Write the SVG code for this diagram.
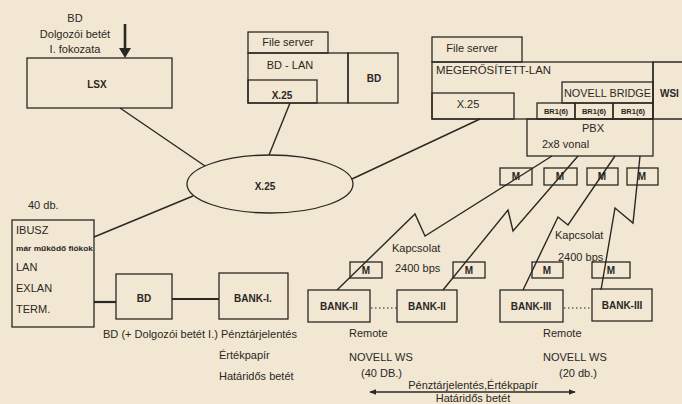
<svg xmlns="http://www.w3.org/2000/svg" width="682" height="404" viewBox="0 0 682 404">
<style>
text{font-family:"Liberation Sans",Arial,sans-serif;fill:#2b2824;font-size:11px}
.b{font-weight:bold;font-size:10px}
.s{font-weight:bold;font-size:7.5px}
.c{text-anchor:middle}
.bx{fill:none;stroke:#2b2824;stroke-width:1.3}
.ln{fill:none;stroke:#2b2824;stroke-width:1.4}
.th{fill:none;stroke:#2b2824;stroke-width:2.2}
.dot{fill:none;stroke:#2b2824;stroke-width:1.2;stroke-dasharray:1.5 2.5}
</style>
<defs>
<marker id="ah" viewBox="0 0 10 10" refX="9" refY="5" markerWidth="5" markerHeight="5" orient="auto-start-reverse">
<path d="M0,1 L10,5 L0,9 Z" fill="#2b2824"/>
</marker>
</defs>
<rect width="682" height="404" fill="#f1e7d2"/>

<g id="connectors">
<line class="ln" x1="120" y1="108" x2="205" y2="166"/>
<line class="ln" x1="290" y1="103" x2="269" y2="155"/>
<line class="ln" x1="352" y1="179" x2="480" y2="119"/>
<line class="ln" x1="94" y1="237" x2="193" y2="196"/>
<line class="th" x1="94" y1="302" x2="116" y2="302"/>
<line class="th" x1="172" y1="299" x2="219" y2="299"/>
<polyline class="ln" points="552,156 425,236 415,214 337,290"/>
<polyline class="ln" points="578,156 513,231 508,210 443,290"/>
<polyline class="ln" points="615,156 568,225 558,217 523,290"/>
<polyline class="ln" points="640,156 633,223 615,208 601,290"/>
<line class="dot" x1="371" y1="308" x2="397" y2="308"/>
<line class="dot" x1="564" y1="308" x2="592" y2="308"/>
<line x1="125" y1="24" x2="125" y2="52" stroke="#2b2824" stroke-width="2.6"/>
<path d="M119,48 L131,48 L125,58 Z" fill="#2b2824"/>
<line class="ln" x1="370" y1="392" x2="575" y2="392" marker-start="url(#ah)" marker-end="url(#ah)"/>
</g>

<g id="bd-label">
<text class="c" x="75" y="22">BD</text>
<text class="c" x="75" y="38">Dolgozói betét</text>
<text class="c" x="75" y="53">I. fokozata</text>
</g>

<g id="lsx">
<rect class="bx" x="27" y="58" width="145" height="50"/>
<text class="b c" x="97" y="88">LSX</text>
</g>

<g id="x25-cloud">
<ellipse class="bx" cx="270" cy="184" rx="83" ry="29" stroke-width="1.6"/>
<text class="b c" x="265" y="190">X.25</text>
</g>

<g id="bd-lan">
<rect class="bx" x="248" y="32" width="80" height="21"/>
<text class="c" x="288" y="46" font-size="10.5">File server</text>
<rect class="bx" x="248" y="53" width="100" height="50"/>
<rect class="bx" x="348" y="53" width="50" height="50"/>
<rect class="bx" x="248" y="80" width="69" height="23"/>
<text class="c" x="290" y="69" font-size="10.5">BD - LAN</text>
<text class="b c" x="374" y="82">BD</text>
<text class="b c" x="282" y="99">X.25</text>
</g>

<g id="megerositett-lan">
<rect class="bx" x="432" y="37" width="90" height="25"/>
<text class="c" x="472" y="52" font-size="11">File server</text>
<rect class="bx" x="432" y="62" width="221" height="57"/>
<polyline class="bx" points="682,62 653,62 653,119 682,119"/>
<text x="436" y="74" font-size="10.5" textLength="115" lengthAdjust="spacingAndGlyphs">MEGERŐSÍTETT-LAN</text>
<rect class="bx" x="432" y="93" width="82" height="26"/>
<text class="c" x="468" y="108" font-size="10.5">X.25</text>
<rect class="bx" x="562" y="82" width="91" height="21"/>
<text x="564" y="97" font-size="11" textLength="87" lengthAdjust="spacingAndGlyphs">NOVELL BRIDGE</text>
<text class="b" x="660" y="97">WSI</text>
<rect class="bx" x="537" y="103" width="38" height="16"/>
<rect class="bx" x="575" y="103" width="38" height="16"/>
<rect class="bx" x="613" y="103" width="40" height="16"/>
<text class="s c" x="556" y="114">BR1(6)</text>
<text class="s c" x="594" y="114">BR1(6)</text>
<text class="s c" x="633" y="114">BR1(6)</text>
</g>

<g id="pbx">
<rect class="bx" x="527" y="119" width="126" height="37"/>
<text class="c" x="593" y="132" font-size="13">PBX</text>
<text x="542" y="148" font-size="12">2x8 vonal</text>
</g>

<g id="modems-top">
<rect class="bx" x="500" y="168" width="32" height="17"/>
<text class="b c" x="516" y="180" font-size="9">M</text>
<rect class="bx" x="544" y="168" width="33" height="17"/>
<text class="b c" x="560" y="180" font-size="9">M</text>
<rect class="bx" x="587" y="168" width="31" height="17"/>
<text class="b c" x="602" y="180" font-size="9">M</text>
<rect class="bx" x="627" y="168" width="31" height="17"/>
<text class="b c" x="642" y="180" font-size="9">M</text>
</g>

<g id="ibusz">
<text x="28" y="209" font-size="10.5">40 db.</text>
<rect class="bx" x="12" y="220" width="82" height="107"/>
<text x="16" y="234" font-size="10.5">IBUSZ</text>
<text class="s" x="16" y="251" textLength="77" lengthAdjust="spacingAndGlyphs">már működő fiókok</text>
<text x="16" y="271" font-size="10.5">LAN</text>
<text x="16" y="292" font-size="10.5">EXLAN</text>
<text x="16" y="313" font-size="10.5">TERM.</text>
</g>

<g id="bd-box">
<rect class="bx" x="116" y="274" width="56" height="45"/>
<text class="b c" x="144" y="302">BD</text>
</g>

<g id="bank-i">
<rect class="bx" x="219" y="273" width="69" height="46"/>
<text class="b c" x="253" y="302">BANK-I.</text>
</g>

<g id="bank-i-labels">
<text x="103" y="338" font-size="10.5" textLength="194" lengthAdjust="spacingAndGlyphs">BD (+ Dolgozói betét I.) Pénztárjelentés</text>
<text x="219" y="359" font-size="10.5">Értékpapír</text>
<text x="219" y="380" font-size="10.5">Határidős betét</text>
</g>

<g id="modems-bottom">
<rect class="bx" x="350" y="262" width="32" height="16"/>
<text class="b c" x="366" y="274" font-size="9">M</text>
<rect class="bx" x="453" y="262" width="32" height="16"/>
<text class="b c" x="469" y="274" font-size="9">M</text>
<rect class="bx" x="532" y="262" width="31" height="16"/>
<text class="b c" x="547" y="274" font-size="9">M</text>
<rect class="bx" x="592" y="262" width="38" height="16"/>
<text class="b c" x="611" y="274" font-size="9">M</text>
</g>

<g id="link-labels">
<text x="392" y="252" font-size="10.5">Kapcsolat</text>
<text x="395" y="272" font-size="10.5">2400 bps</text>
<text x="555" y="239" font-size="10.5">Kapcsolat</text>
<text x="558" y="261" font-size="10.5">2400 bps</text>
</g>

<g id="bank-ii-a">
<rect class="bx" x="308" y="290" width="62" height="32"/>
<text class="b c" x="339" y="310">BANK-II</text>
</g>
<g id="bank-ii-b">
<rect class="bx" x="397" y="290" width="60" height="32"/>
<text class="b c" x="427" y="310">BANK-II</text>
</g>
<g id="bank-iii-a">
<rect class="bx" x="500" y="290" width="63" height="32"/>
<text class="b c" x="531" y="310">BANK-III</text>
</g>
<g id="bank-iii-b">
<rect class="bx" x="592" y="289" width="60" height="32"/>
<text class="b c" x="622" y="309">BANK-III</text>
</g>

<g id="remote-labels">
<text x="349" y="337" font-size="10.5">Remote</text>
<text x="349" y="361" font-size="10.5">NOVELL WS</text>
<text x="361" y="377" font-size="10.5">(40 DB.)</text>
<text x="543" y="337" font-size="10.5">Remote</text>
<text x="543" y="361" font-size="10.5">NOVELL WS</text>
<text x="559" y="377" font-size="10.5">(20 db.)</text>
</g>

<g id="bottom-arrow-labels">
<text class="c" x="473" y="389" font-size="10.5">Pénztárjelentés,Értékpapír</text>
<text class="c" x="473" y="402" font-size="10">Határidős betét</text>
</g>
</svg>
